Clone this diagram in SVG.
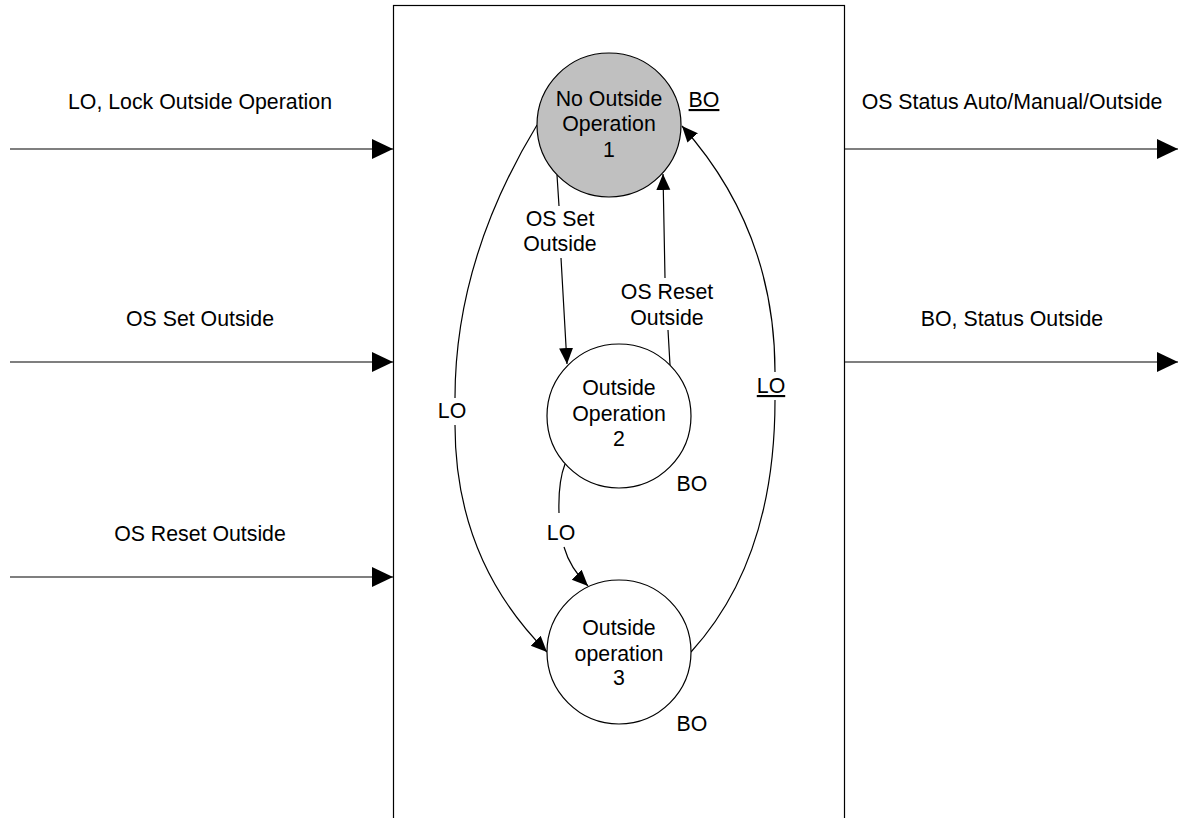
<svg xmlns="http://www.w3.org/2000/svg" width="1182" height="818" viewBox="0 0 1182 818">
  <style>
    text { font-family: "Liberation Sans", Arial, sans-serif; font-size: 21.3px; fill: #000; text-anchor: middle; }
    .u { text-decoration: underline; }
    .line { fill: none; stroke: #000; stroke-width: 1.2; }
    .state { fill: #fff; stroke: #000; stroke-width: 1.2; }
    .state.init { fill: #c0c0c0; }
  </style>
  <defs>
    <marker id="bigArrow" markerUnits="userSpaceOnUse" markerWidth="22" markerHeight="22" refX="21" refY="10" orient="auto">
      <path d="M0,0 L21,10 L0,20 z" fill="#000"/>
    </marker>
    <marker id="arrow" markerUnits="userSpaceOnUse" markerWidth="18" markerHeight="16" refX="16" refY="7" orient="auto">
      <path d="M0,0 L16,7 L0,14 z" fill="#000"/>
    </marker>
  </defs>

  <rect width="1182" height="818" fill="#fff"/>

  <!-- function block outline -->
  <rect id="block" x="393.5" y="5.5" width="451" height="830" fill="none" stroke="#000" stroke-width="1.2"/>

  <!-- inputs and outputs -->
  <g id="io">
    <g id="in-lo">
      <text x="200" y="109">LO, Lock Outside Operation</text>
      <line class="line" x1="10" y1="149" x2="393" y2="149" marker-end="url(#bigArrow)"/>
    </g>
    <g id="in-set">
      <text x="200" y="326">OS Set Outside</text>
      <line class="line" x1="10" y1="362" x2="393" y2="362" marker-end="url(#bigArrow)"/>
    </g>
    <g id="in-reset">
      <text x="200" y="541">OS Reset Outside</text>
      <line class="line" x1="10" y1="577" x2="393" y2="577" marker-end="url(#bigArrow)"/>
    </g>
    <g id="out-status">
      <text x="1012" y="109">OS Status Auto/Manual/Outside</text>
      <line class="line" x1="844" y1="149" x2="1178" y2="149" marker-end="url(#bigArrow)"/>
    </g>
    <g id="out-bo">
      <text x="1012" y="326">BO, Status Outside</text>
      <line class="line" x1="844" y1="362" x2="1178" y2="362" marker-end="url(#bigArrow)"/>
    </g>
  </g>

  <!-- state transitions -->
  <g id="connectors">
    <g id="t1-2">
      <path class="line" d="M557,175 L559,206 M561,258 L567,364" marker-end="url(#arrow)"/>
      <text x="560" y="226">OS Set</text>
      <text x="560" y="251">Outside</text>
    </g>
    <g id="t2-1">
      <path class="line" d="M670,365 L668,330 M665,278 L663,174" marker-end="url(#arrow)"/>
      <text x="667" y="299">OS Reset</text>
      <text x="667" y="325">Outside</text>
    </g>
    <g id="t1-3">
      <path class="line" d="M537,125 Q455,260 455,398"/>
      <path class="line" d="M455,425 Q455,560 547,652" marker-end="url(#arrow)"/>
      <text x="452" y="418">LO</text>
    </g>
    <g id="t2-3">
      <path class="line" d="M565,464 Q558,482 559,513"/>
      <path class="line" d="M564,547 Q570,568 588,586" marker-end="url(#arrow)"/>
      <text x="561" y="540">LO</text>
    </g>
    <g id="t3-1">
      <path class="line" d="M691,652 Q775,560 775,400"/>
      <path class="line" d="M775,372 Q775,230 682,126" marker-end="url(#arrow)"/>
      <text class="u" x="771" y="393">LO</text>
    </g>
  </g>

  <!-- states -->
  <g id="state1">
    <circle class="state init" cx="609" cy="125" r="72"/>
    <text x="609" y="106">No Outside</text>
    <text x="609" y="131">Operation</text>
    <text x="609" y="157">1</text>
    <text class="u" x="704" y="107">BO</text>
  </g>
  <g id="state2">
    <circle class="state" cx="619" cy="416" r="72"/>
    <text x="619" y="395">Outside</text>
    <text x="619" y="421">Operation</text>
    <text x="619" y="446">2</text>
    <text x="692" y="491">BO</text>
  </g>
  <g id="state3">
    <circle class="state" cx="619" cy="652" r="72"/>
    <text x="619" y="635">Outside</text>
    <text x="619" y="661">operation</text>
    <text x="619" y="685">3</text>
    <text x="692" y="731">BO</text>
  </g>
</svg>
